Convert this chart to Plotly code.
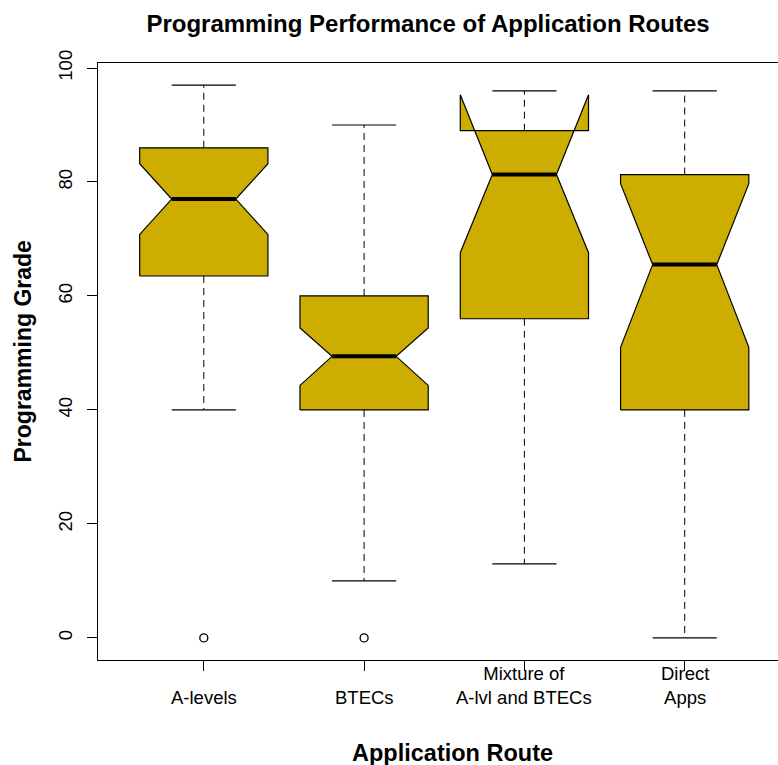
import plotly.graph_objects as go

# Five-number summaries (plus notch limits and outliers) per application route
routes = ["A-levels", "BTECs", "Mixture of<br>A-lvl and BTECs", "Direct<br>Apps"]
lower_whisker = [40, 10, 13, 0]
q1 = [63.5, 40, 56, 40]
median = [77, 49.4, 81.3, 65.5]
q3 = [86, 60, 89, 81.3]
upper_whisker = [97, 90, 96, 96]
notch_low = [70.8, 44.3, 67.6, 51.0]
notch_high = [83.2, 54.4, 95.3, 79.7]
outlier_groups = [1, 2]
outlier_values = [0, 0]
y_ticks = [0, 20, 40, 60, 80, 100]

FILL = "#CDAD00"
BOX_HALF = 0.4      # boxwex 0.8
NOTCH_HALF = 0.2    # notch pinches to half the box width
STAPLE_HALF = 0.2

fig = go.Figure()

for i in range(len(routes)):
    x = i + 1
    # whiskers (dashed) from hinges to extremes
    for a, b in ((q3[i], upper_whisker[i]), (q1[i], lower_whisker[i])):
        fig.add_trace(go.Scatter(
            x=[x, x], y=[a, b], mode="lines",
            line=dict(color="black", width=1, dash="7px,5px"),
            hoverinfo="skip", showlegend=False))
    # staples
    for v in (upper_whisker[i], lower_whisker[i]):
        fig.add_trace(go.Scatter(
            x=[x - STAPLE_HALF, x + STAPLE_HALF], y=[v, v], mode="lines",
            line=dict(color="black", width=1.2),
            hoverinfo="skip", showlegend=False))
    # notched box outline
    px = [x - BOX_HALF, x - BOX_HALF, x - NOTCH_HALF, x - BOX_HALF, x - BOX_HALF,
          x + BOX_HALF, x + BOX_HALF, x + NOTCH_HALF, x + BOX_HALF, x + BOX_HALF,
          x - BOX_HALF]
    py = [q1[i], notch_low[i], median[i], notch_high[i], q3[i],
          q3[i], notch_high[i], median[i], notch_low[i], q1[i], q1[i]]
    fig.add_trace(go.Scatter(
        x=px, y=py, mode="lines", fill="toself", fillcolor=FILL,
        line=dict(color="black", width=1.2),
        hoverinfo="skip", showlegend=False))
    # median bar
    fig.add_trace(go.Scatter(
        x=[x - NOTCH_HALF, x + NOTCH_HALF], y=[median[i], median[i]], mode="lines",
        line=dict(color="black", width=4),
        hoverinfo="skip", showlegend=False))

# outliers
fig.add_trace(go.Scatter(
    x=outlier_groups, y=outlier_values, mode="markers",
    marker=dict(symbol="circle-open", size=8, color="black", line=dict(width=1.3)),
    hoverinfo="skip", showlegend=False))

FONT = "Liberation Sans, Arial, sans-serif"

# category labels, bottom lines aligned
for i, label in enumerate(routes):
    fig.add_annotation(
        x=i + 1, y=-0.083, xref="x", yref="paper", text=label,
        showarrow=False, yanchor="bottom", xanchor="center",
        font=dict(family=FONT, size=18.5, color="black"))

fig.add_annotation(
    x=2.55, y=-0.155, xref="x", yref="paper", text="<b>Application Route</b>",
    showarrow=False, yanchor="middle", xanchor="center",
    font=dict(family=FONT, size=23.5, color="black"))

fig.add_annotation(
    x=(22.5 - 98) / 680, y=(660 - 352) / 597, xref="paper", yref="paper",
    text="<b>Programming Grade</b>", textangle=-90,
    showarrow=False, yanchor="middle", xanchor="center",
    font=dict(family=FONT, size=23, color="black"))

fig.update_layout(
    width=778, height=765,
    margin=dict(l=98, r=0, t=63, b=105),
    paper_bgcolor="white", plot_bgcolor="white",
    font=dict(family=FONT, color="black"),
    title=dict(text="<b>Programming Performance of Application Routes</b>",
               x=428 / 778, xref="container", xanchor="center",
               y=1 - 24 / 765, yref="container", yanchor="middle",
               font=dict(family=FONT, size=24, color="black")),
    xaxis=dict(range=[0.34, 0.34 + 680 / 160.3], tickvals=[1, 2, 3, 4],
               showticklabels=False, ticks="outside", ticklen=10, tickwidth=1.2,
               tickcolor="black", showline=True, linecolor="black", linewidth=1.2,
               mirror=True, showgrid=False, zeroline=False, fixedrange=True),
    yaxis=dict(range=[-3.88, 100.88], tickvals=y_ticks, ticktext=[str(v) for v in y_ticks],
               tickangle=-90, ticks="outside", ticklen=10, tickwidth=1.2,
               tickcolor="black", showline=True, linecolor="black", linewidth=1.2,
               showgrid=False, zeroline=False, fixedrange=True, ticklabelstandoff=8,
               tickfont=dict(family=FONT, size=18.5, color="black")),
)

fig.write_html("out.html")
